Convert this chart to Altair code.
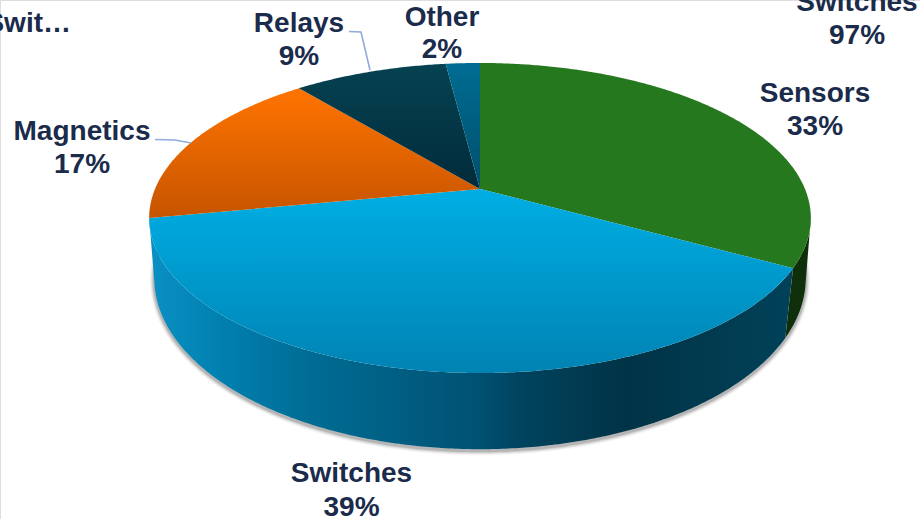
import numpy as np
import pandas as pd
import altair as alt

# Market share by product family, clockwise from twelve o'clock
categories = ["Sensors", "Switches", "Magnetics", "Relays", "Other"]
shares = [33, 39, 17, 9, 2]

# Label lines that carry no slice of their own
extra_labels = ["Swit…", "Switches", "97%"]

WIDTH, HEIGHT = 920, 519
INK = "#1b2b4b"
LEADER = "#8faadc"
LABEL_SIZE = 28

# Perspective disc: (apex x, apex y, half width, half height, foreshortening)
TOP_DISC = (480.0, 189.0, 325.0, 149.6, 0.187)
BASE_DISC = (480.0, 251.0, 321.5, 166.5, 0.16)


def project(fraction, disc):
    """Map a fraction of the full turn onto a tilted disc."""
    cx, cy, bx, ay, k = disc
    turn = 2 * np.pi * np.asarray(fraction, dtype=float)
    u, v = np.sin(turn), np.cos(turn)
    depth = 1 + k * v
    return cx + bx * u / depth, cy - ay * v / depth


def fractions(lo, hi):
    return np.linspace(lo, hi, max(int((hi - lo) * 720), 8))


def frame(xs, ys):
    return pd.DataFrame({"x": xs, "y": ys, "i": np.arange(len(xs))})


def slice_frame(lo, hi):
    xs, ys = project(fractions(lo, hi), TOP_DISC)
    cx, cy = TOP_DISC[:2]
    return frame(np.r_[cx, xs, cx], np.r_[cy, ys, cy])


def wall_frame(lo, hi):
    t = fractions(lo, hi)
    x1, y1 = project(t, TOP_DISC)
    x2, y2 = project(t[::-1], BASE_DISC)
    return frame(np.r_[x1, x2, x1[0]], np.r_[y1, y2, y1[0]])


x_scale = alt.Scale(domain=[0, WIDTH], range=[0, WIDTH])
y_scale = alt.Scale(domain=[0, HEIGHT], range=[0, HEIGHT])
X = alt.X("x:Q", scale=x_scale, axis=None)
Y = alt.Y("y:Q", scale=y_scale, axis=None)


def gradient(stops, horizontal=False):
    return alt.LinearGradient(
        gradient="linear",
        stops=[alt.GradientStop(offset=o, color=c) for o, c in stops],
        x1=0, y1=0, x2=1 if horizontal else 0, y2=0 if horizontal else 1,
    )


def filled(df, fill):
    return alt.Chart(df).mark_line(fill=fill, strokeWidth=0).encode(
        x=X, y=Y, order=alt.Order("i:Q")
    )


edges = np.cumsum([0] + shares) / sum(shares)
bounds = dict(zip(categories, zip(edges[:-1], edges[1:])))

top_fills = {
    "Sensors": "#26781f",
    "Switches": gradient([(0, "#00aee4"), (1, "#0083b3")]),
    "Magnetics": gradient([(0, "#ff7400"), (1, "#c65400")]),
    "Relays": gradient([(0, "#064251"), (1, "#012b3b")]),
    "Other": gradient([(0, "#006c92"), (1, "#004f6c")]),
}

# Soft shadow hugging the lower rim
rim_t = np.linspace(0.20, 0.78, 240)
rim_x, rim_y = project(rim_t, BASE_DISC)
rim = frame(rim_x, rim_y + 1.5)
shadow = [
    alt.Chart(rim).mark_line(color="#404040", strokeWidth=w, opacity=o).encode(
        x=X, y=Y, order=alt.Order("i:Q")
    )
    for w, o in [(9, 0.05), (7, 0.08), (5, 0.12), (3, 0.2)]
]

# Visible part of the side wall
blue_wall = gradient(
    [
        (0.00, "#0a90c4"),
        (0.12, "#007fae"),
        (0.25, "#006c94"),
        (0.50, "#005375"),
        (0.58, "#00435e"),
        (0.74, "#013346"),
        (0.90, "#013c52"),
        (1.00, "#004259"),
    ],
    horizontal=True,
)
walls = [
    filled(wall_frame(0.28, bounds["Sensors"][1]), "#0f2f0b"),
    filled(wall_frame(bounds["Switches"][0], 0.72), blue_wall),
]

tops = [filled(slice_frame(*bounds[name]), top_fills[name]) for name in categories]

# Leader lines for the two labels set away from their slices
leaders = pd.DataFrame(
    {
        "x": [349, 361, 370, 155, 175, 191],
        "y": [31.5, 32, 70, 139.5, 140, 143],
        "i": [0, 1, 2, 0, 1, 2],
        "group": ["Relays"] * 3 + ["Magnetics"] * 3,
    }
)
leader_layer = alt.Chart(leaders).mark_line(color=LEADER, strokeWidth=1.6).encode(
    x=X, y=Y, order=alt.Order("i:Q"), detail="group:N"
)

# Label text, line by line
share_text = [f"{s}%" for s in shares]
label_text = [
    categories[0], share_text[0],
    categories[1], share_text[1],
    categories[2], share_text[2],
    categories[3], share_text[3],
    categories[4], share_text[4],
    extra_labels[1], extra_labels[2],
]
label_x = [815, 815, 351.5, 351.5, 82, 82, 299, 299, 442, 442, 857, 857]
label_y = [94, 127, 474, 507.5, 132, 165, 24, 57, 18, 50, 3, 36]
labels = pd.DataFrame({"x": label_x, "y": label_y, "text": label_text})
label_layer = alt.Chart(labels).mark_text(
    font="Liberation Sans", fontWeight="bold", fontSize=LABEL_SIZE, color=INK,
    align="center", baseline="middle",
).encode(x=X, y=Y, text="text:N")

cut_label = alt.Chart(pd.DataFrame({"x": [71], "y": [24], "text": [extra_labels[0]]})).mark_text(
    font="Liberation Sans", fontWeight="bold", fontSize=LABEL_SIZE, color=INK,
    align="right", baseline="middle",
).encode(x=X, y=Y, text="text:N")

chart = alt.layer(*shadow, *walls, *tops, leader_layer, label_layer, cut_label).properties(
    width=WIDTH, height=HEIGHT, padding=0, autosize=alt.AutoSizeParams(type="none")
).configure_view(stroke=None).configure(background="white")

chart.save("out.html", embed_options={"renderer": "svg", "actions": False})
